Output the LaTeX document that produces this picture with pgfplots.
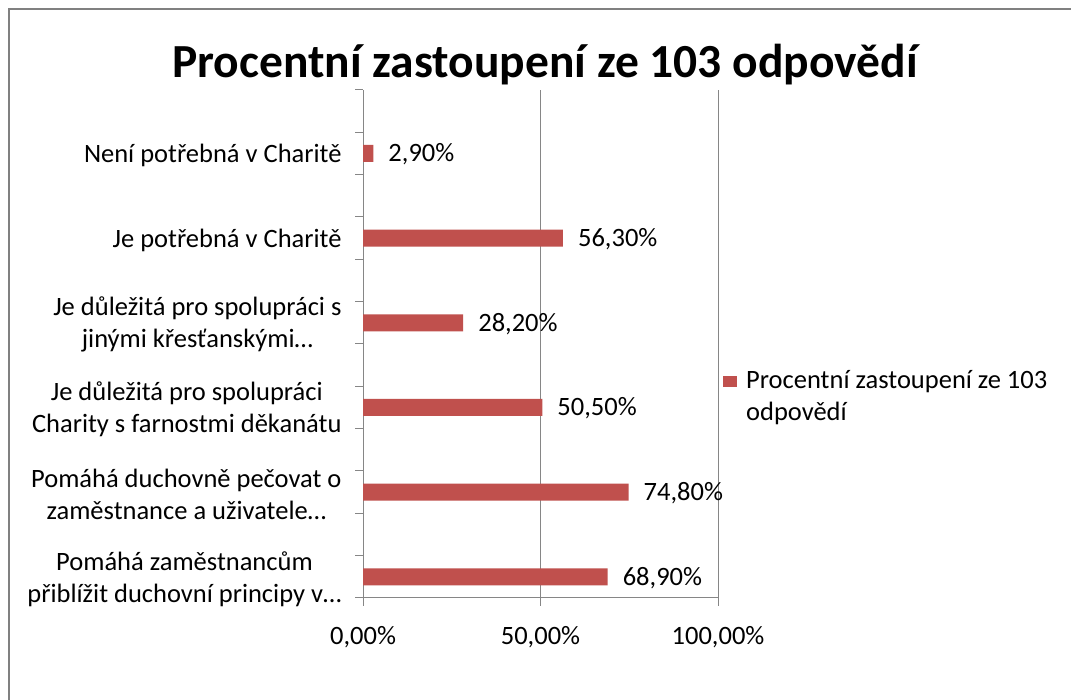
\documentclass[border=0pt]{standalone}
\usepackage{pgfplots}
\pgfplotsset{compat=1.18}
\usepackage{fontspec}
\setmainfont{Carlito}
\definecolor{barred}{HTML}{C0504D}
\definecolor{axgray}{HTML}{868686}
\definecolor{framegray}{HTML}{808080}
\newcommand{\lblfont}{\fontsize{26.5bp}{32bp}\selectfont}
\begin{document}
\begin{tikzpicture}[x=1bp,y=1bp]
\useasboundingbox (0,0) rectangle (1071,700);
\fill[white] (0,0) rectangle (1071,700);
\draw[framegray, line width=2.5bp] (9,-10) -- (9,691) -- (1090,691);
\node[anchor=base, font=\fontsize{47.5bp}{54bp}\selectfont\bfseries] at (545,622) {Procentní zastoupení ze 103 odpovědí};
\begin{axis}[
  at={(363bp,102bp)}, anchor=south west,
  scale only axis, width=355bp, height=508bp,
  xbar, bar width=17bp,
  xmin=0, xmax=100, ymin=0, ymax=12,
  axis x line*=bottom, axis y line*=left,
  axis line style={axgray, line width=1bp, -},
  xtick={0,50,100},
  xticklabels={{0,00\%},{50,00\%},{100,00\%}},
  xticklabel style={yshift=-17bp},
  xmajorgrids, grid style={axgray, line width=1bp},
  ytick={0,1,...,12},
  yticklabels={,,,,,,,,,,,,,},
  tick align=outside, major tick length=8bp,
  tick style={axgray, line width=1bp},
  xtick pos=bottom, ytick pos=left,
  tick label style={font=\lblfont, text=black},
  extra y ticks={0.5,2.5,4.5,6.5,8.5,10.5},
  extra y tick labels={
    {Pomáhá zaměstnancům\\přiblížit duchovní principy v…},
    {Pomáhá duchovně pečovat o\\zaměstnance a uživatele…},
    {Je důležitá pro spolupráci\\Charity s farnostmi děkanátu},
    {Je důležitá pro spolupráci s\\jinými křesťanskými…},
    {Je potřebná v Charitě},
    {Není potřebná v Charitě}},
  extra y tick style={tick style={draw=none}, grid=none,
    yticklabel style={align=center, xshift=-10bp, yshift=-2bp}},
  point meta=x,
  nodes near coords={\pgfmathprintnumber[fixed,fixed zerofill,precision=2,use comma,assume math mode=true]{\pgfplotspointmeta}\%},
  nodes near coords style={anchor=west, inner sep=0pt, xshift=15bp, yshift=-1bp, font=\lblfont, text=black},
  legend style={draw=none, fill=none, at={(1.014,0.453)}, anchor=north west,
    font=\lblfont, cells={anchor=west, align=left}, inner sep=0pt},
  legend image code/.code={\fill[barred] (0bp,9bp) rectangle (14bp,20bp); \path (21bp,0bp);},
]
\addplot[fill=barred, draw=none] coordinates {
  (68.9,0.5) (74.8,2.5) (50.5,4.5) (28.2,6.5) (56.3,8.5) (2.9,10.5)};
\addlegendentry{Procentní zastoupení ze 103\\odpovědí}
\end{axis}
\end{tikzpicture}
\end{document}
